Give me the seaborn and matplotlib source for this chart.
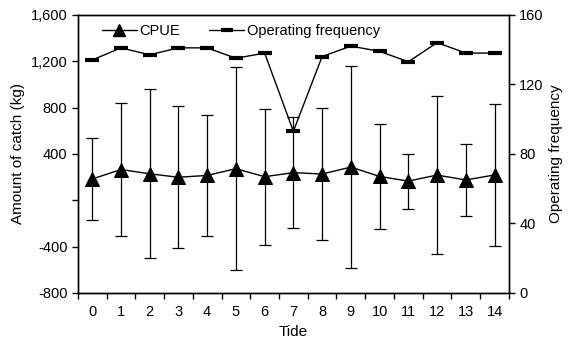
import numpy as np
import pandas as pd
import seaborn as sns
import matplotlib
matplotlib.use("Agg")
import matplotlib.pyplot as plt
from matplotlib.ticker import FixedLocator, FuncFormatter
from matplotlib.lines import Line2D

# data
tide = list(range(15))
cpue = [183, 265, 228, 198, 214, 272, 203, 238, 226, 286, 205, 165, 217, 175, 218]
cpue_sd = [352, 572, 728, 613, 522, 878, 586, 478, 566, 873, 453, 238, 683, 311, 613]
freq = [134, 141, 137, 141, 141, 135, 138, 93, 136, 142, 139, 133, 144, 138, 138]

sns.set_style("ticks")
plt.rcParams["font.family"] = ["Liberation Sans", "DejaVu Sans"]
plt.rcParams["font.size"] = 10.5
plt.rcParams["text.color"] = "black"
plt.rcParams["axes.labelcolor"] = "black"
plt.rcParams["xtick.color"] = "black"
plt.rcParams["ytick.color"] = "black"

df = pd.DataFrame({"tide": tide, "cpue": cpue, "sd": cpue_sd, "freq": freq})

fig = plt.figure(figsize=(5.68, 3.45), dpi=100)
ax = fig.add_axes([0.137, 0.151, 0.759, 0.806])

ax.errorbar(df.tide, df.cpue, yerr=df.sd, fmt="none", ecolor="black",
            elinewidth=0.9, capsize=4, capthick=0.9, zorder=2)
sns.lineplot(data=df, x="tide", y="cpue", ax=ax, color="black", lw=1.0,
             marker="^", markersize=9.5, markeredgecolor="black", zorder=3)

ax.set_xlim(-0.5, 14.5)
ax.set_ylim(-800, 1600)
ax.set_yticks([-800, -400, 0, 400, 800, 1200, 1600])
ax.yaxis.set_major_formatter(FuncFormatter(
    lambda v, p: "" if v == 0 else f"{v:,.0f}".replace("\u2212", "-")))
ax.set_xticks(tide)
ax.xaxis.set_minor_locator(FixedLocator(np.arange(-0.5, 15, 1)))
ax.tick_params(axis="x", which="major", length=0, pad=9)
ax.tick_params(axis="x", which="minor", length=4, width=1, color="black")
ax.tick_params(axis="y", length=4, width=1, color="black")
ax.set_xlabel("Tide", fontsize=11, labelpad=4)
ax.set_ylabel("Amount of catch (kg)", fontsize=11, labelpad=4)

ax2 = ax.twinx()
sns.lineplot(data=df, x="tide", y="freq", ax=ax2, color="black", lw=1.0,
             marker="_", markersize=10, markeredgewidth=3, markeredgecolor="black")
ax2.set_ylim(0, 160)
ax2.set_yticks([0, 40, 80, 120, 160])
ax2.tick_params(axis="y", length=4, width=1, color="black")
ax2.set_ylabel("Operating frequency", fontsize=11, labelpad=4)

for a in (ax, ax2):
    for s in a.spines.values():
        s.set_color("black")
        s.set_linewidth(1.0)
        s.set_visible(True)

handles = [
    Line2D([], [], color="black", lw=1.0, marker="^", markersize=8),
    Line2D([], [], color="black", lw=1.0, marker="_", markersize=9, markeredgewidth=3),
]
ax.legend(handles, ["CPUE", "Operating frequency"], loc="upper left", ncol=2,
          frameon=False, fontsize=10.5, handlelength=2.4, handletextpad=0.15,
          columnspacing=2.05, bbox_to_anchor=(0.025, 1.015))

fig.savefig("out.png", dpi=100)
